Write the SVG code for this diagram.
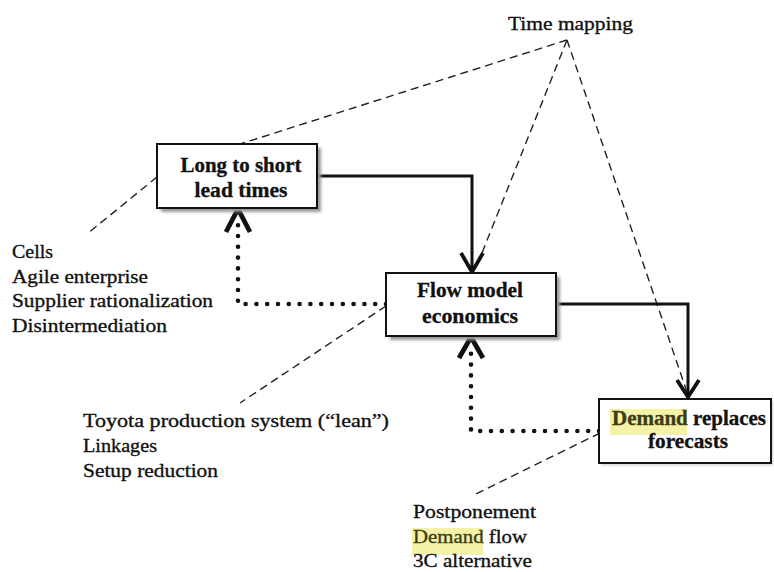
<svg xmlns="http://www.w3.org/2000/svg" width="774" height="572" viewBox="0 0 774 572">
  <defs>
    <filter id="soft" x="-10%" y="-10%" width="120%" height="130%">
      <feGaussianBlur stdDeviation="1.6"/>
    </filter>
    <style>
      .box { fill: #fff; stroke: #111; stroke-width: 2; }
      .shadow { fill: #9a9a9a; filter: url(#soft); }
      .title { font-family: "Liberation Serif", "DejaVu Serif", serif; font-weight: bold; font-size: 20px; fill: #111; stroke: #111; stroke-width: 0.3; text-anchor: middle; }
      .label { font-family: "Liberation Serif", "DejaVu Serif", serif; font-size: 19.5px; fill: #111; stroke: #111; stroke-width: 0.35; }
      .mark { fill: #f3f2a6; }
      .hl { fill: #3c3c16; stroke: #3c3c16; }
      .solid { fill: none; stroke: #111; stroke-width: 3; }
      .head { fill: none; stroke: #111; stroke-width: 3.8; stroke-linejoin: miter; }
      .dots { fill: none; stroke: #111; stroke-width: 4.6; stroke-linecap: round; stroke-dasharray: 0 10.8; }
      .dhead { fill: none; stroke: #111; stroke-width: 4.8; stroke-linejoin: miter; }
      .dash { fill: none; stroke: #222; stroke-width: 1.4; stroke-dasharray: 8 5; }
    </style>
  </defs>

  <rect width="774" height="572" fill="#fff"/>

  <!-- connectors -->
  <g id="connectors">
    <!-- time mapping leaders -->
    <path class="dash" d="M567,40 L240,144"/>
    <path class="dash" d="M567,40 L476,268"/>
    <path class="dash" d="M567,40 L688,395"/>
    <!-- list leaders -->
    <path class="dash" d="M157,177 L87,234"/>
    <path class="dash" d="M386,306 L240,403"/>
    <path class="dash" d="M600,433 L472,496"/>
    <!-- solid flow arrows -->
    <path class="solid" d="M317,176 H472 V270"/>
    <path class="head" d="M461,253 L472,272 L483,253"/>
    <path class="solid" d="M556,304 H688 V395"/>
    <path class="head" d="M677,380 L688,397 L699,380"/>
    <!-- dotted feedback arrows -->
    <path class="dots" d="M386,304 H238 V222"/>
    <path class="dhead" d="M226,232 L238,209 L250,232"/>
    <path class="dots" d="M599,431 H471 V348"/>
    <path class="dhead" d="M459,358 L471,337 L483,358"/>
  </g>

  <!-- nodes -->
  <g id="node-lead-times">
    <rect class="shadow" x="161" y="148" width="160" height="64"/>
    <rect class="box" x="157" y="144" width="160" height="64"/>
    <text class="title" x="241" y="172" textLength="121" lengthAdjust="spacingAndGlyphs">Long to short</text>
    <text class="title" x="241" y="197" textLength="93" lengthAdjust="spacingAndGlyphs">lead times</text>
  </g>

  <g id="node-flow-model">
    <rect class="shadow" x="390" y="277" width="170" height="63"/>
    <rect class="box" x="386" y="273" width="170" height="63"/>
    <text class="title" x="470" y="297" textLength="106" lengthAdjust="spacingAndGlyphs">Flow model</text>
    <text class="title" x="470" y="323" textLength="96" lengthAdjust="spacingAndGlyphs">economics</text>
  </g>

  <g id="node-demand">
    <rect class="shadow" x="601" y="401" width="172" height="64" opacity="0.5"/>
    <rect class="box" x="599" y="399" width="172" height="64" stroke-width="1.6"/>
    <rect class="mark" x="610" y="409" width="77" height="26"/>
    <text class="title" x="689" y="425" textLength="154" lengthAdjust="spacingAndGlyphs"><tspan class="hl">Demand</tspan> replaces</text>
    <text class="title" x="688" y="448" textLength="80" lengthAdjust="spacingAndGlyphs">forecasts</text>
  </g>

  <g id="node-time-mapping">
    <text class="label" x="508" y="30" textLength="125" lengthAdjust="spacingAndGlyphs">Time mapping</text>
  </g>

  <g id="node-list-lead-times">
    <text class="label" x="12" y="258" textLength="41" lengthAdjust="spacingAndGlyphs">Cells</text>
    <text class="label" x="12" y="283" textLength="136" lengthAdjust="spacingAndGlyphs">Agile enterprise</text>
    <text class="label" x="12" y="307" textLength="201" lengthAdjust="spacingAndGlyphs">Supplier rationalization</text>
    <text class="label" x="12" y="332" textLength="155" lengthAdjust="spacingAndGlyphs">Disintermediation</text>
  </g>

  <g id="node-list-flow">
    <text class="label" x="83" y="427" textLength="306" lengthAdjust="spacingAndGlyphs">Toyota production system (“lean”)</text>
    <text class="label" x="83" y="452" textLength="74" lengthAdjust="spacingAndGlyphs">Linkages</text>
    <text class="label" x="83" y="477" textLength="135" lengthAdjust="spacingAndGlyphs">Setup reduction</text>
  </g>

  <g id="node-list-demand">
    <text class="label" x="413" y="518" textLength="123" lengthAdjust="spacingAndGlyphs">Postponement</text>
    <rect class="mark" x="412" y="528" width="71" height="27"/>
    <text class="label" x="413" y="543" textLength="114" lengthAdjust="spacingAndGlyphs"><tspan class="hl">Demand</tspan> flow</text>
    <text class="label" x="413" y="567" textLength="119" lengthAdjust="spacingAndGlyphs">3C alternative</text>
  </g>
</svg>
